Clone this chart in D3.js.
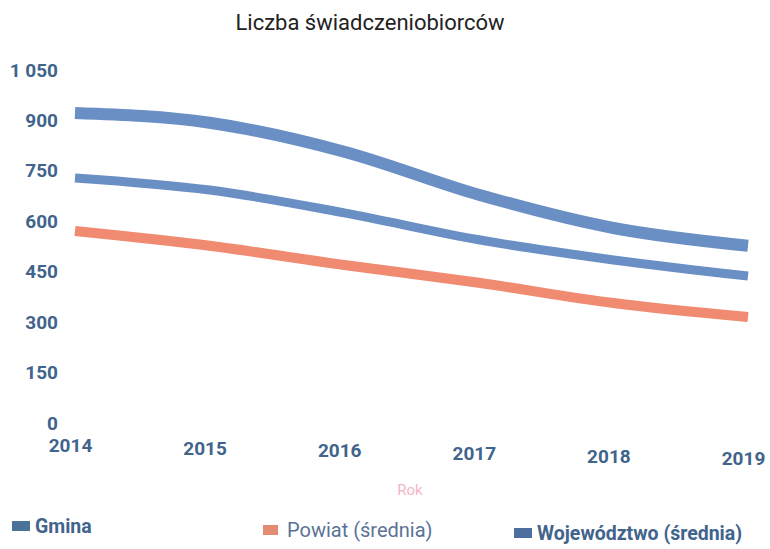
<!DOCTYPE html>
<html>
<head>
  <meta charset="UTF-8">
  <style>
    body { margin: 0; background: #fff; }
    svg text { font-family: Roboto, "Liberation Sans", sans-serif; }
  </style>
</head>
<body>
<div id="chart_div"></div>
<script src="https://d3js.org/d3.v7.min.js"></script>
<script>

let width = 770, height = 549;

// Data
const years = [2014, 2015, 2016, 2017, 2018, 2019];
const gmina = [922, 893, 807, 679, 580, 527];
const wojewodztwo = [729, 693, 625, 545, 485, 437];
const powiat = [571, 527, 470, 417, 357, 315];
const yTicks = [0, 150, 300, 450, 600, 750, 900, 1050];

const seriesNames = ["Gmina", "Powiat (średnia)", "Województwo (średnia)"];
const lineColors = ["#6a8fc4", "#f08a70", "#6a8fc4"];
const legendColors = ["#4a7398", "#e48b74", "#4f6ea0"];

let svg = d3.select("#chart_div")
    .append("svg")
    .attr("width", width)
    .attr("height", height);

let x = d3.scalePoint().domain(years).range([75, 748]);
let y = d3.scaleLinear().domain([0, 1050]).range([423, 70]);

// Title
svg.append("text")
    .attr("x", 370)
    .attr("y", 30)
    .attr("text-anchor", "middle")
    .style("font-size", "22px")
    .style("fill", "#222")
    .text("Liczba świadczeniobiorców");

// Y axis (labels only)
let yAxis = svg.append("g")
    .attr("transform", "translate(61,0)")
    .call(d3.axisLeft(y).tickValues(yTicks).tickSize(0)
        .tickFormat(d => d3.format(",")(d).replace(",", " ")));
yAxis.select(".domain").remove();
yAxis.selectAll("text")
    .style("font-size", "19px")
    .style("font-weight", "bold")
    .style("fill", "#41648c");

// X axis (labels only, slightly skewed like the scan)
let xAxis = svg.append("g")
    .attr("transform", "translate(-5,434)")
    .call(d3.axisBottom(x).tickSize(0).tickFormat(d3.format("d")));
xAxis.select(".domain").remove();
xAxis.selectAll("text")
    .attr("dy", d => 15 + (x(d) - 75) * 0.02)
    .style("font-size", "19px")
    .style("font-weight", "bold")
    .style("fill", "#41648c");

// Axis title
svg.append("text")
    .attr("x", 410)
    .attr("y", 495)
    .attr("text-anchor", "middle")
    .style("font-size", "15px")
    .style("fill", "#f3b6c8")
    .text("Rok");

// Lines
let line = d3.line()
    .x((d, i) => x(years[i]))
    .y(d => y(d))
    .curve(d3.curveMonotoneX);

const allSeries = [gmina, powiat, wojewodztwo];
const widths = [12, 10, 9];

svg.append("g")
    .selectAll("path")
    .data(allSeries)
    .enter()
    .append("path")
    .attr("d", d => line(d))
    .attr("fill", "none")
    .attr("stroke", (d, i) => lineColors[i])
    .attr("stroke-width", (d, i) => widths[i])
    .attr("stroke-linecap", "butt");

// Legend
const legendX = [12, 263, 514];
const legendY = [526, 530, 533];

let legend = svg.append("g")
    .selectAll("g")
    .data(seriesNames)
    .enter()
    .append("g")
    .attr("transform", (d, i) => "translate(" + legendX[i] + "," + legendY[i] + ")");

legend.append("rect")
    .attr("x", 0)
    .attr("y", -5)
    .attr("width", (d, i) => i === 1 ? 15 : 18)
    .attr("height", 10)
    .attr("fill", (d, i) => legendColors[i]);

legend.append("text")
    .attr("x", (d, i) => i === 1 ? 24 : 23)
    .attr("y", 7)
    .style("font-size", (d, i) => i === 1 ? "20px" : "19.5px")
    .style("font-weight", (d, i) => i === 1 ? "normal" : "bold")
    .style("fill", (d, i) => i === 1 ? "#5a7396" : "#41648c")
    .text(d => d);

</script>
</body>
</html>
